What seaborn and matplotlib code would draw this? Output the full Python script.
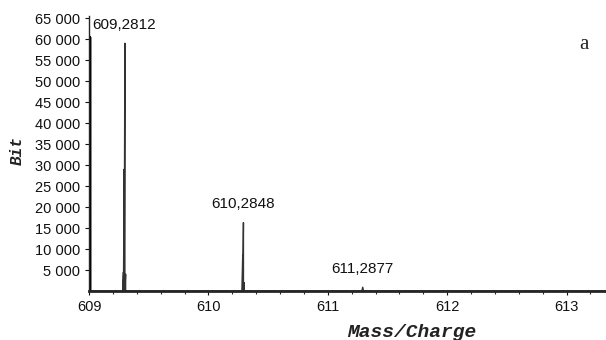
import numpy as np
import pandas as pd
import seaborn as sns
import matplotlib.pyplot as plt
from matplotlib.ticker import FuncFormatter, MultipleLocator

# profile points of the spectrum (m/z, intensity)
mz = [609.0, 609.0, 609.0,
      609.282, 609.288, 609.288, 609.294, 609.294, 609.300, 609.300, 609.306, 609.306, 609.312, 609.32,
      610.280, 610.287, 610.287, 610.293, 610.293, 610.299, 610.299, 610.306, 610.315,
      611.285, 611.292, 611.299, 613.4]
intensity = [0, 60500, 0,
             0, 4500, 0, 29000, 0, 59000, 0, 4000, 0, 0, 0,
             0, 8500, 0, 16300, 0, 2000, 0, 0, 0,
             0, 900, 0, 0]

peak_mz = [609.2972, 610.2908, 611.2917]
peak_int = [59000, 16300, 900]
peak_labels = ['609,2812', '610,2848', '611,2877']

y_ticks = list(range(5000, 65001, 5000))
x_ticks = [609, 610, 611, 612, 613]

df = pd.DataFrame({'mz': mz, 'intensity': intensity})

sns.set_style('ticks')
plt.rcParams['font.family'] = ['Liberation Sans', 'DejaVu Sans']

fig = plt.figure(figsize=(6.06, 3.40), dpi=100)
ax = fig.add_axes([0.147, 0.144, 0.853, 0.809])

sns.lineplot(data=df, x='mz', y='intensity', sort=False, estimator=None,
             color='#333333', linewidth=1.0, ax=ax)
# thick trace at left edge
ax.plot(mz[:3], intensity[:3], color='black', linewidth=2.5, solid_capstyle='butt')

for x, y, lab in zip(peak_mz, peak_int, peak_labels):
    ax.annotate(lab, (x, y), xytext=(0, 8), textcoords='offset points',
                ha='center', va='bottom', fontsize=11, color='#111111')

ax.set_xlim(609, 613.33)
ax.set_ylim(0, 65500)
ax.set_yticks(y_ticks)
ax.yaxis.set_major_formatter(FuncFormatter(lambda v, p: f'{int(v):,}'.replace(',', ' ')))
ax.set_xticks(x_ticks)
ax.xaxis.set_minor_locator(MultipleLocator(0.2))
ax.tick_params(axis='both', labelsize=10.5, length=3, width=0.8, colors='#111111')
ax.tick_params(axis='x', which='minor', length=2.5, width=0.8)

for s in ['top', 'right']:
    ax.spines[s].set_visible(False)
ax.spines['bottom'].set_linewidth(2)
ax.spines['left'].set_linewidth(1)

ax.set_xlabel('Mass/Charge', family='Liberation Mono', style='italic',
              fontweight='bold', fontsize=14, color='#222222')
ax.set_ylabel('Bit', family='Liberation Mono', style='italic',
              fontweight='bold', fontsize=11.5, color='#222222')
ax.xaxis.set_label_coords(0.625, -0.12)
ax.yaxis.set_label_coords(-0.125, 0.51)

fig.text(0.963, 0.87, 'a', family='Liberation Serif', fontsize=15, ha='center', va='center')

fig.savefig('out.png', dpi=100)
